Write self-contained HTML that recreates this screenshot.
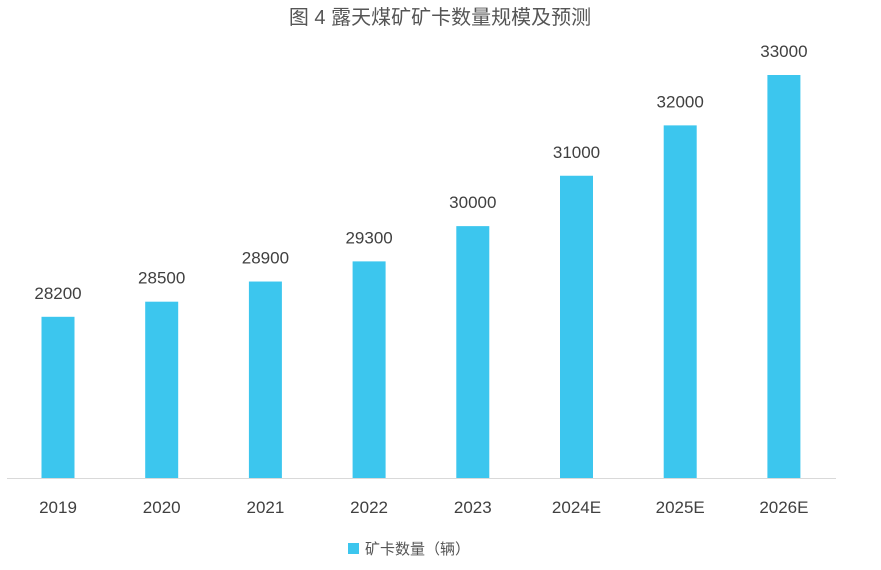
<!DOCTYPE html>
<html><head><meta charset="utf-8"><style>
body{margin:0;background:#fff;width:881px;height:565px;overflow:hidden;font-family:"Liberation Sans","Noto Sans CJK SC",sans-serif;}
</style></head><body>
<svg id="chart" width="881" height="565" xmlns="http://www.w3.org/2000/svg">
<text x="440" y="24" text-anchor="middle" font-size="20" fill="#555" font-family="Liberation Sans, Noto Sans CJK SC, sans-serif">图 4 露天煤矿矿卡数量规模及预测</text>
<line x1="7" y1="478.5" x2="836" y2="478.5" stroke="#d9d9d9" stroke-width="1"/>
<g id="bars"></g>
<rect x="348" y="543" width="11" height="11" fill="#3cc6ee"/>
<text x="365" y="554" font-size="15" fill="#555" font-family="Liberation Sans, Noto Sans CJK SC, sans-serif">矿卡数量（辆）</text>
</svg>
<script>
const categories=["2019","2020","2021","2022","2023","2024E","2025E","2026E"];
const values=[28200,28500,28900,29300,30000,31000,32000,33000];
const yMin=25000,yMax=33000,y0=478,y1=75;
const x0=58,step=103.7,bw=33;
function xScale(i){return x0+i*step;}
function yScale(v){return y0-(v-yMin)/(yMax-yMin)*(y0-y1);}
const g=document.getElementById('bars');
const ns="http://www.w3.org/2000/svg";
categories.forEach((c,i)=>{
  const cx=xScale(i),y=yScale(values[i]);
  const r=document.createElementNS(ns,'rect');
  
  
  r.setAttribute('x',cx-bw/2);r.setAttribute('y',y);r.setAttribute('width',bw);r.setAttribute('height',y0-y);
  r.setAttribute('fill','#3cc6ee');g.appendChild(r);
  const t=document.createElementNS(ns,'text');
  
  
  t.setAttribute('x',cx);t.setAttribute('y',y-18);t.setAttribute('text-anchor','middle');
  t.setAttribute('font-size','17');t.setAttribute('fill','#404040');t.textContent=values[i];g.appendChild(t);
  const l=document.createElementNS(ns,'text');
  
  
  l.setAttribute('x',cx);l.setAttribute('y',513);l.setAttribute('text-anchor','middle');
  l.setAttribute('font-size','17');l.setAttribute('fill','#404040');l.textContent=c;g.appendChild(l);
});
</script>
</body></html>
